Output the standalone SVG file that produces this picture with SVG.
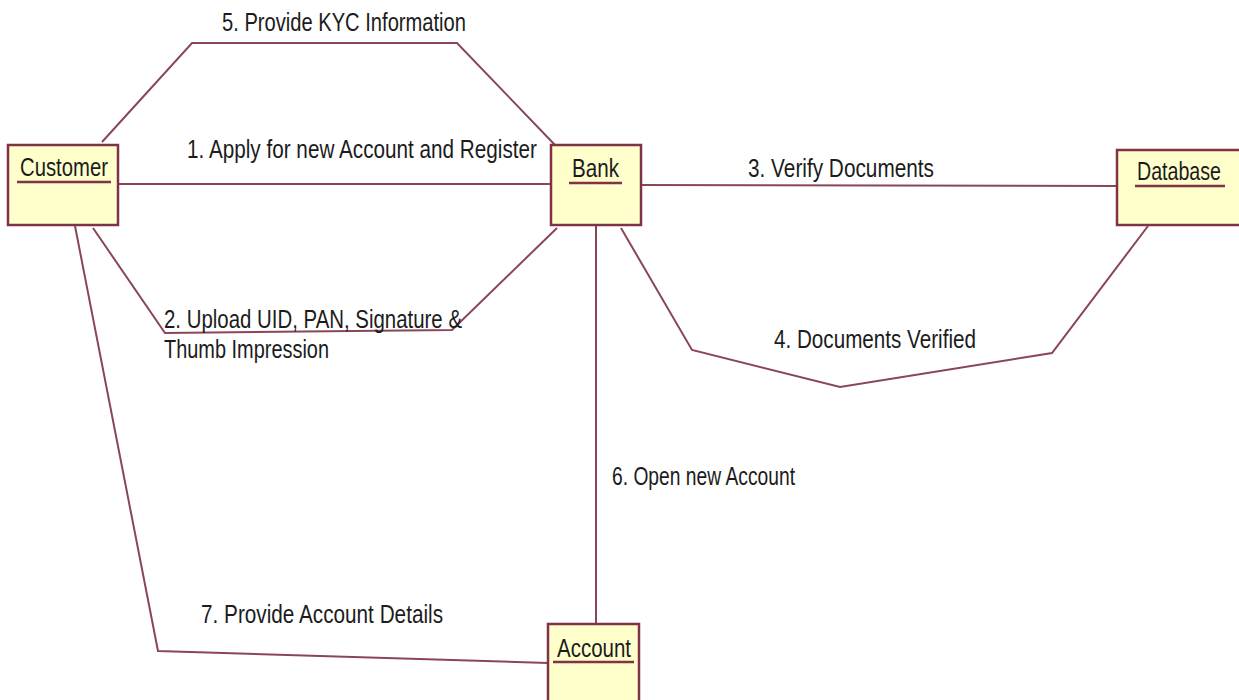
<svg xmlns="http://www.w3.org/2000/svg" width="1239" height="700" viewBox="0 0 1239 700">
<style>
.box{fill:#FFFFCC;stroke:#7F3344;stroke-width:2.5}
.ul{stroke:#7F3344;stroke-width:2.5}
.conn{fill:none;stroke:#8A4659;stroke-width:2}
text{font-family:"Liberation Sans Narrow","Liberation Sans",Arial,sans-serif;font-size:25px;fill:#1c1c1c}
</style>
<rect width="1239" height="700" fill="#ffffff"/>
<g id="connectors">
<polyline class="conn" points="102,142 192,43 457,43 555,145"/>
<line class="conn" x1="118" y1="184" x2="551" y2="184"/>
<polyline class="conn" points="93,228 165,333 452,330 557,228"/>
<line class="conn" x1="641" y1="185" x2="1117" y2="186"/>
<polyline class="conn" points="621,228 692,350 840,387 1052,353 1148,226"/>
<line class="conn" x1="596" y1="225" x2="596" y2="624"/>
<polyline class="conn" points="75,226 158,651 548,663"/>
</g>
<g id="labels">
<text x="222" y="31" textLength="244" lengthAdjust="spacingAndGlyphs">5. Provide KYC Information</text>
<text x="187" y="158" textLength="350" lengthAdjust="spacingAndGlyphs">1. Apply for new Account and Register</text>
<text x="164" y="328" textLength="298" lengthAdjust="spacingAndGlyphs">2. Upload UID, PAN, Signature &amp;</text>
<text x="164" y="358" textLength="165" lengthAdjust="spacingAndGlyphs">Thumb Impression</text>
<text x="748" y="177" textLength="186" lengthAdjust="spacingAndGlyphs">3. Verify Documents</text>
<text x="774" y="348" textLength="202" lengthAdjust="spacingAndGlyphs">4. Documents Verified</text>
<text x="612" y="485" textLength="183" lengthAdjust="spacingAndGlyphs">6. Open new Account</text>
<text x="201" y="623" textLength="242" lengthAdjust="spacingAndGlyphs">7. Provide Account Details</text>
</g>
<g id="node-customer">
<rect class="box" x="8" y="145" width="110" height="80"/>
<text x="20" y="176" textLength="88" lengthAdjust="spacingAndGlyphs">Customer</text>
<line class="ul" x1="17" y1="182" x2="111" y2="182"/>
</g>
<g id="node-bank">
<rect class="box" x="551" y="145" width="90" height="80"/>
<text x="572" y="177" textLength="47" lengthAdjust="spacingAndGlyphs">Bank</text>
<line class="ul" x1="569" y1="183" x2="622" y2="183"/>
</g>
<g id="node-database">
<rect class="box" x="1117" y="150" width="130" height="75"/>
<text x="1137" y="180" textLength="84" lengthAdjust="spacingAndGlyphs">Database</text>
<line class="ul" x1="1135" y1="186" x2="1225" y2="186"/>
</g>
<g id="node-account">
<rect class="box" x="548" y="624" width="91" height="90"/>
<text x="557" y="657" textLength="74" lengthAdjust="spacingAndGlyphs">Account</text>
<line class="ul" x1="553" y1="662" x2="634" y2="662"/>
</g>
</svg>
